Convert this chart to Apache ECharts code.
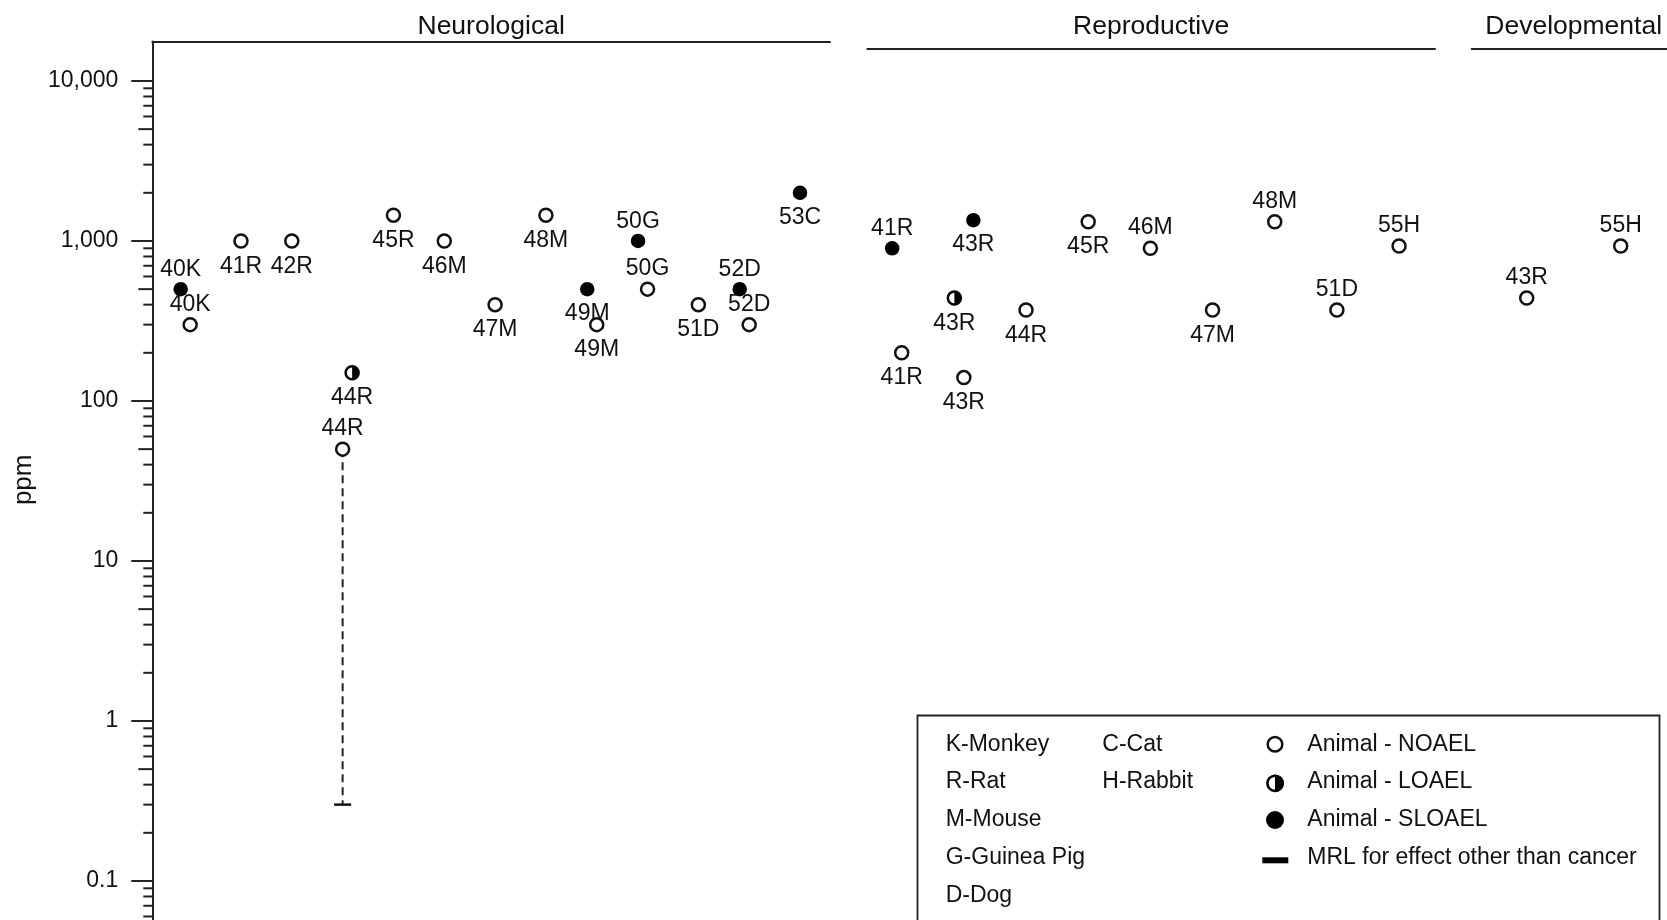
<!DOCTYPE html>
<html>
<head>
<meta charset="utf-8">
<script src="https://cdn.jsdelivr.net/npm/echarts@6/dist/echarts.min.js"></script>
<style>
  html, body { margin: 0; padding: 0; background: #ffffff; }
  #chart { width: 1667px; height: 920px; }
</style>
</head>
<body>
<div id="chart"></div>
<script>
// ---- Data: exposure levels (ppm) by endpoint and study key ----
const neuroStudies  = ['40K', '41R', '42R', '44R', '45R', '46M', '47M', '48M', '49M', '50G', '51D', '52D', '53C'];
const neuroNOAEL    = [300, 1000, 1000, 50, 1450, 1000, 400, 1450, 300, 500, 400, 300, null];
const neuroLOAEL    = [null, null, null, 150, null, null, null, null, null, null, null, null, null];
const neuroSLOAEL   = [500, null, null, null, null, null, null, null, 500, 1000, null, 500, 2000];

const reproStudies  = ['41R', '43R', '44R', '45R', '46M', '47M', '48M', '51D', '55H'];
const reproNOAEL    = [200, 140, 370, 1320, 900, 370, 1320, 370, 930];
const reproLOAEL    = [null, 440, null, null, null, null, null, null, null];
const reproSLOAEL   = [900, 1350, null, null, null, null, null, null, null];

const devStudies    = ['43R', '55H'];
const devNOAEL      = [440, 930];
const devLOAEL      = [null, null];
const devSLOAEL     = [null, null];

// Minimal risk level, drawn below the study it is derived from
const mrlStudy      = '44R';
const mrlValue      = 0.3;

// Value axis
const yTickValues   = [0.1, 1, 10, 100, 1000, 10000];
const yTickLabels   = ['0.1', '1', '10', '100', '1,000', '10,000'];
const yMin = 0.05, yMax = 17650;

// Key
const speciesKeyA   = ['K-Monkey', 'R-Rat', 'M-Mouse', 'G-Guinea Pig', 'D-Dog'];
const speciesKeyB   = ['C-Cat', 'H-Rabbit'];
const effectKey     = ['Animal - NOAEL', 'Animal - LOAEL', 'Animal - SLOAEL', 'MRL for effect other than cancer'];

// ---- Layout / styling ----
const FONT = "'Liberation Sans', Arial, Helvetica, sans-serif";
const INK = '#111111';
const LINE = '#222222';
const PX_PER_DECADE = 160;
const GRID_TOP = 41.5;
const GRID_H = (Math.log10(yMax) - Math.log10(yMin)) * PX_PER_DECADE;

// half-filled circle: outer ring plus right half disk
const HALF_PATH = 'path://M10 0 A10 10 0 0 1 10 20 A10 10 0 0 1 10 0 Z ' +
                  'M10 3.2 A6.8 6.8 0 0 0 10 16.8 A6.8 6.8 0 0 0 10 3.2 Z ' +
                  'M10 3.2 A6.8 6.8 0 0 1 10 16.8 Z';

const panels = [
  { title: 'Neurological',  studies: neuroStudies, NOAEL: neuroNOAEL, LOAEL: neuroLOAEL, SLOAEL: neuroSLOAEL,
    left: 152.3, width: 677.7, xMin: -0.745, xMax: 12.59, lineOffset: 0,  nameGap: 1 },
  { title: 'Reproductive',  studies: reproStudies, NOAEL: reproNOAEL, LOAEL: reproLOAEL, SLOAEL: reproSLOAEL,
    left: 867.3, width: 567.7, xMin: -0.553, xMax: 8.578, lineOffset: -7, nameGap: 8 },
  { title: 'Developmental', studies: devStudies,   NOAEL: devNOAEL,   LOAEL: devLOAEL,   SLOAEL: devSLOAEL,
    left: 1471.7, width: 204, xMin: -0.585, xMax: 1.585, lineOffset: -7, nameGap: 8 }
];

// which study labels sit above their mark (others sit below)
const labelAbove = {
  Neurological:  { NOAEL: ['40K', '44R', '50G', '52D'], SLOAEL: ['40K', '50G', '52D'] },
  Reproductive:  { NOAEL: ['46M', '48M', '51D', '55H'], SLOAEL: ['41R'] },
  Developmental: { NOAEL: ['43R', '55H'] }
};
// side-by-side order of marks that share one study column
function sideOf(panel, study, effect) {
  if (effect === 'NOAEL') return 0;
  if (panel === 'Reproductive' && study === '43R') return effect === 'LOAEL' ? -1 : 1;
  if (panel === 'Reproductive') return -1;
  return effect === 'SLOAEL' ? -1 : 1;
}
const SIDE_PX = 9.5;

const effectStyles = {
  NOAEL:  { symbol: 'circle', symbolSize: 13, itemStyle: { color: '#ffffff', borderColor: INK, borderWidth: 2.5, opacity: 1 } },
  LOAEL:  { symbol: HALF_PATH, symbolSize: 15.5, itemStyle: { color: '#000000', opacity: 1 } },
  SLOAEL: { symbol: 'circle', symbolSize: 14.5, itemStyle: { color: '#000000', opacity: 1 } }
};

const grids = [], xAxes = [], yAxes = [], series = [];

panels.forEach((p, gi) => {
  grids.push({ left: p.left, top: GRID_TOP, width: p.width, height: GRID_H, containLabel: false, outerBoundsMode: 'none' });
  xAxes.push({
    type: 'value', gridIndex: gi, position: 'top', min: p.xMin, max: p.xMax, offset: p.lineOffset,
    axisLine: { show: true, onZero: false, lineStyle: { color: LINE, width: 2 } },
    axisTick: { show: false }, axisLabel: { show: false }, splitLine: { show: false },
    name: p.title, nameLocation: 'middle', nameGap: p.nameGap,
    nameTextStyle: { fontFamily: FONT, fontSize: 26.5, color: INK }
  });
  const y = {
    type: 'log', logBase: 10, gridIndex: gi, min: yMin, max: yMax,
    splitLine: { show: false }, axisTick: { show: false }
  };
  if (gi === 0) {
    Object.assign(y, {
      axisLine: { show: true, onZero: false, lineStyle: { color: LINE, width: 2 } },
      axisLabel: {
        show: true, margin: 34, fontFamily: FONT, fontSize: 23, color: INK,
        showMinLabel: false, showMaxLabel: false,
        formatter: v => {
          const i = yTickValues.findIndex(t => Math.abs(Math.log10(t) - Math.log10(v)) < 1e-6);
          return i >= 0 ? yTickLabels[i] : '';
        }
      },
      name: 'ppm', nameLocation: 'middle', nameGap: 115,
      nameTextStyle: { fontFamily: FONT, fontSize: 26, color: INK, padding: [0, 0, 0, 11] }
    });
  } else {
    y.show = false;
  }
  yAxes.push(y);

  const sideUnit = SIDE_PX * (p.xMax - p.xMin) / p.width;
  const above = labelAbove[p.title] || {};
  ['NOAEL', 'LOAEL', 'SLOAEL'].forEach(effect => {
    const data = [];
    p.studies.forEach((s, j) => {
      const v = p[effect][j];
      if (v == null) return;
      const shared = ['NOAEL', 'LOAEL', 'SLOAEL'].filter(e => p[e][j] != null).length > 1;
      const side = shared ? sideOf(p.title, s, effect) : 0;
      const up = (above[effect] || []).indexOf(s) >= 0;
      data.push({
        name: s,
        value: [j + side * sideUnit, v],
        label: { position: up ? 'top' : 'bottom', distance: up ? 1 : 6 }
      });
    });
    if (!data.length) return;
    series.push(Object.assign({
      type: 'scatter', name: 'Animal - ' + effect, xAxisIndex: gi, yAxisIndex: gi, z: 3,
      data,
      label: { show: true, formatter: '{b}', fontFamily: FONT, fontSize: 23, color: INK, opacity: 1 },
      emphasis: { disabled: true }
    }, effectStyles[effect]));
  });
});

// MRL: dashed drop from the point of departure down to the MRL, with a bar at the MRL
const mrlCol = neuroStudies.indexOf(mrlStudy);
series.push({
  type: 'line', name: 'MRL drop', xAxisIndex: 0, yAxisIndex: 0, z: 1,
  data: [[mrlCol, neuroNOAEL[mrlCol]], [mrlCol, mrlValue]],
  symbol: 'none', lineStyle: { color: LINE, width: 2, type: [8, 5] }, silent: true
});
series.push({
  type: 'scatter', name: 'MRL for effect other than cancer', xAxisIndex: 0, yAxisIndex: 0, z: 2,
  data: [[mrlCol, mrlValue]], symbol: 'rect', symbolSize: [17, 2.5],
  itemStyle: { color: INK, opacity: 1 }, silent: true
});

// log-axis ticks: decades long, 5x medium, the rest short
const tickData = [];
for (let e = -2; e <= 4; e++) {
  for (let k = 1; k <= 9; k++) {
    const v = Number((k * Math.pow(10, e)).toPrecision(3));
    if (v < yMin || v > yMax) continue;
    tickData.push([panels[0].xMin, v, k === 1 ? 2 : (k === 5 ? 1 : 0)]);
  }
}
series.push({
  type: 'custom', name: 'ticks', xAxisIndex: 0, yAxisIndex: 0, clip: false, silent: true, z: 1,
  encode: { x: 0, y: 1 },
  data: tickData,
  renderItem: (params, api) => {
    const pt = api.coord([api.value(0), api.value(1)]);
    const kind = api.value(2);
    const len = kind === 2 ? 21 : (kind === 1 ? 14 : 9);
    return { type: 'line', shape: { x1: pt[0] - len, y1: pt[1], x2: pt[0], y2: pt[1] },
             style: { stroke: LINE, lineWidth: 2 } };
  }
});

// ---- Key box ----
const keyFont = '23px ' + FONT;
const rowY = [744.5, 782, 820, 857.7, 895.3];
const graphic = [
  { type: 'rect', shape: { x: 917.5, y: 715.5, width: 742, height: 260 },
    style: { fill: '#ffffff', stroke: LINE, lineWidth: 1.8 }, z: 10 }
];
speciesKeyA.forEach((t, i) => graphic.push({ type: 'text', x: 945.7, y: rowY[i], z: 11,
  style: { text: t, font: keyFont, fill: INK, verticalAlign: 'middle' } }));
speciesKeyB.forEach((t, i) => graphic.push({ type: 'text', x: 1102.3, y: rowY[i], z: 11,
  style: { text: t, font: keyFont, fill: INK, verticalAlign: 'middle' } }));
effectKey.forEach((t, i) => graphic.push({ type: 'text', x: 1307.3, y: rowY[i], z: 11,
  style: { text: t, font: keyFont, fill: INK, verticalAlign: 'middle' } }));
graphic.push(
  { type: 'circle', shape: { cx: 1275, cy: 744.3, r: 7.3 }, style: { fill: '#ffffff', stroke: INK, lineWidth: 2.5 }, z: 11 },
  { type: 'circle', shape: { cx: 1275, cy: 783.3, r: 7.6 }, style: { fill: '#ffffff', stroke: '#000000', lineWidth: 2.6 }, z: 11 },
  { type: 'sector', shape: { cx: 1275, cy: 783.3, r0: 0, r: 8.9, startAngle: -Math.PI / 2, endAngle: Math.PI / 2, clockwise: true },
    style: { fill: '#000000' }, z: 12 },
  { type: 'circle', shape: { cx: 1275, cy: 820, r: 9 }, style: { fill: '#000000' }, z: 11 },
  { type: 'rect', shape: { x: 1262.3, y: 857.3, width: 26, height: 6 }, style: { fill: '#000000' }, z: 11 }
);

const chart = echarts.init(document.getElementById('chart'), null, { renderer: 'canvas' });
chart.setOption({
  animation: false,
  backgroundColor: '#ffffff',
  textStyle: { fontFamily: FONT },
  grid: grids,
  xAxis: xAxes,
  yAxis: yAxes,
  series,
  graphic
});
</script>
</body>
</html>
